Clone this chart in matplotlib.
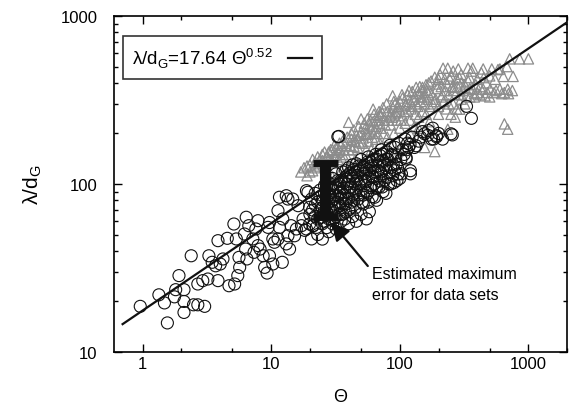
import numpy as np
import matplotlib
matplotlib.use("Agg")
import matplotlib.pyplot as plt
from matplotlib.ticker import FuncFormatter, LogLocator

plt.rcParams['font.family'] = ['Liberation Sans', 'DejaVu Sans']

# open circles (black)
circ_theta = [0.96, 1.56, 1.34, 1.48, 1.81, 1.92, 1.77, 2.1, 2.1, 2.1, 2.49, 2.69, 3.04, 2.39, 2.69,
              2.94, 3.22, 3.28, 3.48, 3.86, 3.7, 3.86, 4.02, 4.22, 4.56, 4.7, 5.2, 5.13, 5.36, 5.5,
              5.69, 5.62, 6.2, 6.33, 6.48, 6.7, 7.2, 7.36, 7.9, 7.9, 8.2, 8.66, 8.9, 9.3, 9.45,
              9.7, 10.3, 10.6, 11.3, 11.3, 11.6, 12.2, 12.3, 13.1, 13.5, 13.9, 14.3, 14.7, 15.2, 16.2,
              17.2, 17.7, 18.8, 19.3, 19.9, 20.6, 21.2, 6.4, 11.6, 13.5, 18.8, 13.1, 15.7, 19.9, 22.5,
              20.6, 10.3, 7.6, 9.7,
              18.2, 21.2, 23, 24, 25, 26, 27, 28, 29, 30, 31, 32, 33, 34, 35, 36, 37.3, 38, 40, 41,
              42, 44, 45, 47.5, 48, 50, 52, 54, 56, 58, 60, 62, 63.7, 66, 68, 70, 71, 74, 76, 79,
              79, 82, 85, 88, 91, 94, 97, 103, 112, 112, 117, 121, 121, 134, 156, 167, 176, 183, 193,
              193, 250, 256, 330, 360, 33.6, 33,
              20, 22, 22, 24, 25, 26, 28, 29, 30, 31, 32, 33, 35, 36, 38, 39, 40, 42, 43, 45, 46,
              48, 50, 52, 53, 55, 57, 60, 62, 65, 67, 70, 72, 75, 80, 84, 88, 92, 98, 105, 110, 115,
              125, 140, 150, 23, 25, 27, 28, 30, 32, 35, 40, 43, 46, 50, 55, 24, 34, 38, 44, 52, 57,
              61, 66, 73, 78, 85, 90, 95, 100,
              21, 22, 23, 24, 25, 26, 26, 27, 27, 28, 29, 29, 30, 30, 31, 31, 32, 32, 33, 33, 34,
              34, 35, 35, 36, 36, 37, 37, 38, 38, 39, 39, 40, 40, 41, 41, 42, 43, 43, 44, 45, 46,
              46, 47, 48, 49, 50, 51, 52, 53, 54, 55, 56, 57, 58, 59, 60, 61, 62, 63, 64, 66, 67,
              69, 70, 72, 74, 76, 78, 81, 83, 86, 89, 93, 96, 102, 108, 113, 120, 130, 145, 165,
              180, 200, 215]
circ_lam = [18.7, 14.9, 21.9, 19.6, 23.5, 28.5, 21.3, 23.5, 17.2, 20, 19.1, 19.1, 18.7, 37.4, 25.4,
            26.6, 27.2, 37.4, 34.2, 26.6, 32.6, 46, 33.4, 35.8, 47.5, 24.8, 25.4, 57.8, 47.1, 28.5,
            31.9, 36.6, 50.4, 41, 35.8, 56.5, 47.1, 39.2, 60.5, 43, 41, 37.4, 31.9, 29.5, 55.2,
            37.4, 33.4, 45, 47.1, 69.4, 55.2, 34.2, 61.9, 85.2, 49.2, 41, 56.5, 81.4, 49.2, 74.3,
            56.5, 61.9, 54, 89.3, 72.6, 81.4, 56.5, 63.4, 83.4, 81.4, 91.3, 44, 54, 57.8, 55.2,
            47.1, 47.1, 54, 59,
            53, 56.5, 62, 70, 58, 66, 75, 62, 70, 80, 62.6, 72, 85, 66, 90, 76, 61.9, 82, 70, 95,
            78, 88, 72, 81.4, 100, 92, 76, 105, 88, 68.4, 98, 110, 83.4, 95, 120, 104, 118, 90, 130, 109.6,
            141, 100, 125, 112, 120, 131, 114.7, 115, 141, 144, 165, 120, 115, 169, 199, 208, 185, 185, 194,
            191, 199, 196, 290, 246, 192, 191,
            66, 75, 88, 92, 80, 98, 88, 95, 108, 100, 115, 95, 105, 118, 110, 100, 125, 112, 130, 118, 105,
            128, 140, 115, 130, 122, 145, 135, 125, 150, 140, 135, 160, 150, 155, 170, 148, 165, 175, 160, 185, 175,
            190, 180, 205, 50, 47, 55, 52, 58, 54, 60, 58, 64, 60, 66, 62, 63, 74, 68, 80, 86, 78,
            84, 80, 96, 88, 100, 102, 105, 108,
            70, 64, 78, 84, 72, 88, 60, 95, 68, 78, 84, 62, 70, 92, 86, 76, 64, 96, 78, 105, 88,
            100, 72, 82, 94, 66, 102, 86, 76, 120, 90, 112, 82, 104, 72, 116, 96, 86, 108, 122, 100, 92,
            132, 112, 86, 120, 104, 78, 126, 98, 116, 90, 135, 108, 120, 95, 128, 112, 140, 100, 118, 108, 128,
            96, 148, 115, 138, 105, 125, 140, 118, 150, 130, 145, 125, 140, 150, 160, 172, 165, 190, 195,
            215, 200, 185]

# open triangles (grey)
tri_theta = [17, 18, 19, 20, 21, 22, 23, 24, 25, 26, 27, 28, 29, 30, 31, 32, 33, 34, 35, 36, 38, 40,
             40, 42, 44, 46, 48, 50, 50, 52, 54, 56, 56, 58, 60, 62, 62, 65, 68, 70, 70, 73, 76, 80,
             84, 86, 88, 88, 92, 95, 100, 100, 105, 110, 115, 120, 125, 130, 134, 140, 150, 150, 156,
             160, 165, 175, 187, 187, 193, 200, 210, 217, 223, 230, 236, 236, 250, 265, 277, 277, 285,
             292, 300, 330, 339, 350, 369, 369, 400, 420, 445, 445, 460, 480, 505, 519, 540, 600, 600,
             620, 638, 650, 690, 690, 715, 760, 855, 1000,
             60, 70, 80, 90, 100, 110, 120, 130, 140, 150, 160, 170, 180, 190, 200, 210, 220, 240, 260,
             280, 300, 320, 45, 55, 65, 75, 85, 95, 105, 115, 125, 135, 145, 155, 165, 120, 140, 170,
             200, 230, 260, 300, 350, 380, 420, 400, 350, 300, 260, 450, 500, 550, 500, 250, 80, 100,
             60, 40, 45, 35, 30, 50,
             19, 20, 21, 22, 23, 24, 25, 26, 27, 28, 29, 30, 31, 32, 33, 34, 35, 36, 37, 38, 39, 41,
             42, 43, 44, 45, 47, 48, 49, 51, 53, 55, 57, 59, 61, 63, 64, 66, 67, 69, 71, 74, 77, 79,
             82, 87, 90, 93, 97, 102, 104, 108, 112, 118, 122, 128, 132, 138, 143, 148, 155, 162, 168,
             178, 185, 195, 205, 215, 225, 240, 245, 255, 270, 290, 310, 340, 360, 390, 430, 470, 560,
             650, 580, 700, 750, 680, 380, 320, 270]
tri_lam = [118, 125, 112, 130, 120, 135, 128, 140, 150, 132, 145, 155, 138, 160, 148, 165, 140, 158,
           170, 150, 175, 160, 233, 185, 168, 195, 178, 244, 205, 188, 215, 244, 198, 225, 210, 279,
           235, 220, 250, 256, 230, 265, 240, 270, 255, 261, 335, 285, 300, 270, 310, 280, 325, 295,
           340, 310, 355, 330, 376, 345, 376, 360, 165, 390, 350, 410, 432, 156, 394, 420, 380, 489,
           422, 400, 489, 212, 440, 376, 422, 279, 484, 279, 400, 335, 489, 370, 489, 367, 350, 380,
           484, 367, 335, 350, 367, 484, 350, 484, 367, 345, 437, 228, 367, 212, 556, 437, 556, 556,
           160, 175, 190, 200, 215, 230, 240, 220, 250, 270, 260, 290, 300, 320, 290, 330, 310, 340,
           360, 380, 340, 390, 140, 160, 185, 200, 225, 240, 255, 270, 290, 300, 310, 330, 320, 200,
           215, 235, 260, 280, 300, 320, 330, 345, 340, 420, 430, 450, 470, 430, 440, 420, 330, 260,
           145, 160, 135, 125, 110, 120, 110, 120,
           128, 118, 140, 125, 145, 132, 138, 155, 130, 142, 160, 135, 170, 150, 155, 175, 145, 180,
           160, 150, 190, 170, 200, 160, 210, 180, 165, 220, 195, 175, 230, 200, 180, 240, 190, 260,
           205, 240, 200, 270, 215, 285, 225, 300, 240, 250, 310, 265, 290, 240, 340, 270, 300, 360,
           280, 320, 260, 290, 380, 330, 300, 360, 400, 340, 310, 370, 450, 340, 360, 300, 420, 380,
           340, 430, 360, 410, 470, 390, 460, 400, 360, 350, 480, 345, 360, 500, 330, 300, 250]

# fit and error bar
fit_a = 17.64
fit_b = 0.52
fit_theta = [0.7, 2000]
err_theta = [26]
err_lam = [95]
err_low = [64]
err_high = [133]

fig = plt.figure(figsize=(5.7, 4.1), dpi=100)
ax = fig.add_axes([0.2, 0.139, 0.795, 0.8195])

ax.scatter(tri_theta, tri_lam, marker='^', s=55, facecolors='none',
           edgecolors='#8c8c8c', linewidths=0.9, zorder=2)
ax.scatter(circ_theta, circ_lam, marker='o', s=75, facecolors='none',
           edgecolors='#111111', linewidths=0.8, zorder=3)

ft = np.array(fit_theta)
ax.plot(ft, fit_a * ft ** fit_b, color='#111111', lw=1.6, zorder=4,
        label='λ/d$_\\mathregular{G}$=17.64 Θ$^\\mathregular{0.52}$')

yerr = [[err_lam[0] - err_low[0]], [err_high[0] - err_lam[0]]]
ax.errorbar(err_theta, err_lam, yerr=yerr, fmt='none', ecolor='#111111',
            elinewidth=8, capsize=9, capthick=5, zorder=5)

ax.annotate('', xy=(29.5, 59), xytext=(56.4, 32.5),
            arrowprops=dict(arrowstyle='-|>,head_length=0.6,head_width=0.3', color='#111111', lw=1.6,
                            mutation_scale=18, shrinkA=0, shrinkB=0), zorder=6)
ax.text(60.5, 25.4, 'Estimated maximum\nerror for data sets', fontsize=11.5,
        va='center', ha='left', linespacing=1.5)

ax.set_xscale('log')
ax.set_yscale('log')
ax.set_xlim(0.6, 2000)
ax.set_ylim(10, 1000)

fmt = FuncFormatter(lambda v, p: '%d' % v)
ax.xaxis.set_major_formatter(fmt)
ax.yaxis.set_major_formatter(fmt)
ax.xaxis.set_minor_locator(LogLocator(subs=(2, 5)))
ax.yaxis.set_minor_locator(LogLocator(subs=np.arange(2, 10)))
ax.xaxis.set_minor_formatter(FuncFormatter(lambda v, p: ''))
ax.yaxis.set_minor_formatter(FuncFormatter(lambda v, p: ''))
ax.tick_params(which='both', direction='in', top=True, right=True, labelsize=12, width=1)
ax.tick_params(which='major', length=6)
ax.tick_params(which='minor', length=3)
ax.tick_params(axis='x', which='major', pad=3)
ax.tick_params(axis='y', which='major', pad=12)
for s in ax.spines.values():
    s.set_linewidth(1.2)

ax.set_xlabel('Θ', fontsize=13, labelpad=12)
ax.set_ylabel('λ/d$_\\mathregular{G}$', fontsize=15, labelpad=12)

leg = ax.legend(loc='upper left', bbox_to_anchor=(0.02, 0.94), markerfirst=False,
                fontsize=13.5, frameon=True, fancybox=False, handlelength=1.3,
                handletextpad=0.8, borderpad=0.5, borderaxespad=0)
leg.get_frame().set_edgecolor('black')
leg.get_frame().set_linewidth(1.2)

fig.savefig('out.png', dpi=100)
